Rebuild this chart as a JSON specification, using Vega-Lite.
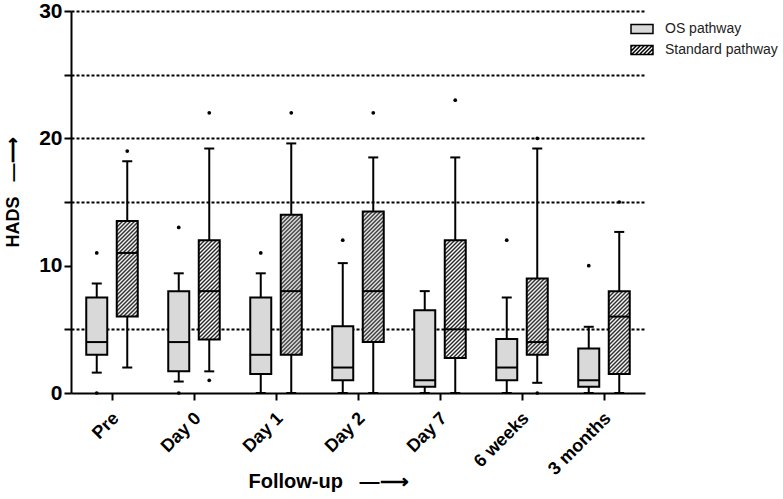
{
  "$schema": "https://vega.github.io/schema/vega-lite/v6.json",
  "width": 574,
  "height": 382,
  "autosize": {"type": "none"},
  "padding": {"left": 71, "top": 11, "right": 138, "bottom": 106},
  "background": "white",
  "config": {
    "view": {"stroke": null},
    "axis": {"labelColor": "black", "titleColor": "black", "domainColor": "black", "tickColor": "black", "labelFont": "Liberation Sans", "titleFont": "Liberation Sans"}
  },
  "datasets": {
    "stats": [
      {"time": "Pre", "group": "OS pathway", "low": 1.6, "q1": 3, "median": 4, "q3": 7.5, "high": 8.6},
      {"time": "Pre", "group": "Standard pathway", "low": 2, "q1": 6, "median": 11, "q3": 13.5, "high": 18.2},
      {"time": "Day 0", "group": "OS pathway", "low": 0.9, "q1": 1.7, "median": 4, "q3": 8, "high": 9.4},
      {"time": "Day 0", "group": "Standard pathway", "low": 1.7, "q1": 4.2, "median": 8, "q3": 12, "high": 19.2},
      {"time": "Day 1", "group": "OS pathway", "low": 0, "q1": 1.5, "median": 3, "q3": 7.5, "high": 9.4},
      {"time": "Day 1", "group": "Standard pathway", "low": 0, "q1": 3, "median": 8, "q3": 14, "high": 19.6},
      {"time": "Day 2", "group": "OS pathway", "low": 0, "q1": 1, "median": 2, "q3": 5.25, "high": 10.2},
      {"time": "Day 2", "group": "Standard pathway", "low": 0, "q1": 4, "median": 8, "q3": 14.25, "high": 18.5},
      {"time": "Day 7", "group": "OS pathway", "low": 0, "q1": 0.5, "median": 1, "q3": 6.5, "high": 8},
      {"time": "Day 7", "group": "Standard pathway", "low": 0, "q1": 2.75, "median": 5, "q3": 12, "high": 18.5},
      {"time": "6 weeks", "group": "OS pathway", "low": 0, "q1": 1, "median": 2, "q3": 4.25, "high": 7.5},
      {"time": "6 weeks", "group": "Standard pathway", "low": 0.8, "q1": 3, "median": 4, "q3": 9, "high": 19.2},
      {"time": "3 months", "group": "OS pathway", "low": 0, "q1": 0.5, "median": 1, "q3": 3.5, "high": 5.2},
      {"time": "3 months", "group": "Standard pathway", "low": 0, "q1": 1.5, "median": 6, "q3": 8, "high": 12.65}
    ],
    "outliers": [
      {"time": "Pre", "group": "OS pathway", "value": 11},
      {"time": "Pre", "group": "OS pathway", "value": 0},
      {"time": "Pre", "group": "Standard pathway", "value": 19},
      {"time": "Day 0", "group": "OS pathway", "value": 13},
      {"time": "Day 0", "group": "OS pathway", "value": 0},
      {"time": "Day 0", "group": "Standard pathway", "value": 22},
      {"time": "Day 0", "group": "Standard pathway", "value": 1},
      {"time": "Day 1", "group": "OS pathway", "value": 11},
      {"time": "Day 1", "group": "Standard pathway", "value": 22},
      {"time": "Day 2", "group": "OS pathway", "value": 12},
      {"time": "Day 2", "group": "Standard pathway", "value": 22},
      {"time": "Day 7", "group": "Standard pathway", "value": 23},
      {"time": "6 weeks", "group": "OS pathway", "value": 12},
      {"time": "6 weeks", "group": "Standard pathway", "value": 20},
      {"time": "6 weeks", "group": "Standard pathway", "value": 0},
      {"time": "3 months", "group": "OS pathway", "value": 10},
      {"time": "3 months", "group": "Standard pathway", "value": 15}
    ]
  },
  "encoding": {
    "x": {
      "field": "time", "type": "nominal",
      "sort": ["Pre", "Day 0", "Day 1", "Day 2", "Day 7", "6 weeks", "3 months"],
      "scale": {"paddingInner": 0, "paddingOuter": 0},
      "axis": {
        "title": "Follow-up\u00a0\u00a0\u00a0—⟶", "titleFontSize": 20, "titleFontWeight": "bold",
        "titleX": 257, "titleY": 94, "titleAlign": "center", "titleBaseline": "alphabetic", "titleAnchor": null,
        "labelAngle": -45, "labelFontSize": 18, "labelFontWeight": "bold", "labelPadding": 9, "labelOffset": -2,
        "tickSize": 7, "tickWidth": 2, "domainWidth": 2, "grid": false
      }
    },
    "xOffset": {
      "field": "group", "type": "nominal", "sort": ["OS pathway", "Standard pathway"],
      "scale": {"paddingInner": 0, "paddingOuter": 0.344}
    }
  },
  "layer": [
    {
      "data": {"name": "stats"},
      "mark": {"type": "rule", "stroke": "black", "strokeWidth": 2},
      "encoding": {
        "y": {
          "field": "low", "type": "quantitative",
          "scale": {"domain": [0, 30], "nice": false},
          "axis": {
            "title": "HADS\u00a0\u00a0\u00a0—⟶", "titleFontSize": 18, "titleFontWeight": "bold",
            "titleX": -53, "titleY": 181, "titleAngle": -90, "titleAlign": "center", "titleBaseline": "alphabetic",
            "values": [0, 5, 10, 15, 20, 25, 30],
            "labelExpr": "datum.value % 10 === 0 ? datum.label : ''",
            "labelFontSize": 21, "labelFontWeight": "bold", "labelPadding": 2,
            "tickSize": 7, "tickWidth": 2, "domainWidth": 2,
            "grid": true, "gridColor": "black", "gridWidth": 2, "gridDash": [3, 2],
            "gridOpacity": {"condition": {"test": "datum.value === 0 || datum.value === 10", "value": 0}, "value": 1}
          }
        },
        "y2": {"field": "high"}
      }
    },
    {
      "data": {"name": "stats"},
      "mark": {"type": "tick", "size": 10, "thickness": 2, "color": "black", "opacity": 1},
      "encoding": {"y": {"field": "low", "type": "quantitative"}}
    },
    {
      "data": {"name": "stats"},
      "mark": {"type": "tick", "size": 10, "thickness": 2, "color": "black", "opacity": 1},
      "encoding": {"y": {"field": "high", "type": "quantitative"}}
    },
    {
      "data": {"name": "stats"},
      "mark": {"type": "bar", "size": 21, "stroke": "black", "strokeWidth": 2},
      "encoding": {
        "y": {"field": "q1", "type": "quantitative"},
        "y2": {"field": "q3"},
        "fill": {
          "value": "#d9d9d9",
          "condition": [
            {"test": "datum.group === 'Standard pathway' && datum.time === 'Pre'", "value": {"gradient": "linear", "x1": 0, "y1": 0, "x2": 0.3514, "y2": 1.598, "stops": [{"offset":0,"color":"#fff"},{"offset":0.0125,"color":"#222"},{"offset":0.025,"color":"#fff"},{"offset":0.0375,"color":"#222"},{"offset":0.05,"color":"#fff"},{"offset":0.0625,"color":"#222"},{"offset":0.075,"color":"#fff"},{"offset":0.0875,"color":"#222"},{"offset":0.1,"color":"#fff"},{"offset":0.1125,"color":"#222"},{"offset":0.125,"color":"#fff"},{"offset":0.1375,"color":"#222"},{"offset":0.15,"color":"#fff"},{"offset":0.1625,"color":"#222"},{"offset":0.175,"color":"#fff"},{"offset":0.1875,"color":"#222"},{"offset":0.2,"color":"#fff"},{"offset":0.2125,"color":"#222"},{"offset":0.225,"color":"#fff"},{"offset":0.2375,"color":"#222"},{"offset":0.25,"color":"#fff"},{"offset":0.2625,"color":"#222"},{"offset":0.275,"color":"#fff"},{"offset":0.2875,"color":"#222"},{"offset":0.3,"color":"#fff"},{"offset":0.3125,"color":"#222"},{"offset":0.325,"color":"#fff"},{"offset":0.3375,"color":"#222"},{"offset":0.35,"color":"#fff"},{"offset":0.3625,"color":"#222"},{"offset":0.375,"color":"#fff"},{"offset":0.3875,"color":"#222"},{"offset":0.4,"color":"#fff"},{"offset":0.4125,"color":"#222"},{"offset":0.425,"color":"#fff"},{"offset":0.4375,"color":"#222"},{"offset":0.45,"color":"#fff"},{"offset":0.4625,"color":"#222"},{"offset":0.475,"color":"#fff"},{"offset":0.4875,"color":"#222"},{"offset":0.5,"color":"#fff"},{"offset":0.5125,"color":"#222"},{"offset":0.525,"color":"#fff"},{"offset":0.5375,"color":"#222"},{"offset":0.55,"color":"#fff"},{"offset":0.5625,"color":"#222"},{"offset":0.575,"color":"#fff"},{"offset":0.5875,"color":"#222"},{"offset":0.6,"color":"#fff"},{"offset":0.6125,"color":"#222"},{"offset":0.625,"color":"#fff"},{"offset":0.6375,"color":"#222"},{"offset":0.65,"color":"#fff"},{"offset":0.6625,"color":"#222"},{"offset":0.675,"color":"#fff"},{"offset":0.6875,"color":"#222"},{"offset":0.7,"color":"#fff"},{"offset":0.7125,"color":"#222"},{"offset":0.725,"color":"#fff"},{"offset":0.7375,"color":"#222"},{"offset":0.75,"color":"#fff"}]}},
            {"test": "datum.group === 'Standard pathway' && datum.time === 'Day 0'", "value": {"gradient": "linear", "x1": 0, "y1": 0, "x2": 0.326, "y2": 1.542, "stops": [{"offset":0,"color":"#fff"},{"offset":0.0125,"color":"#222"},{"offset":0.025,"color":"#fff"},{"offset":0.0375,"color":"#222"},{"offset":0.05,"color":"#fff"},{"offset":0.0625,"color":"#222"},{"offset":0.075,"color":"#fff"},{"offset":0.0875,"color":"#222"},{"offset":0.1,"color":"#fff"},{"offset":0.1125,"color":"#222"},{"offset":0.125,"color":"#fff"},{"offset":0.1375,"color":"#222"},{"offset":0.15,"color":"#fff"},{"offset":0.1625,"color":"#222"},{"offset":0.175,"color":"#fff"},{"offset":0.1875,"color":"#222"},{"offset":0.2,"color":"#fff"},{"offset":0.2125,"color":"#222"},{"offset":0.225,"color":"#fff"},{"offset":0.2375,"color":"#222"},{"offset":0.25,"color":"#fff"},{"offset":0.2625,"color":"#222"},{"offset":0.275,"color":"#fff"},{"offset":0.2875,"color":"#222"},{"offset":0.3,"color":"#fff"},{"offset":0.3125,"color":"#222"},{"offset":0.325,"color":"#fff"},{"offset":0.3375,"color":"#222"},{"offset":0.35,"color":"#fff"},{"offset":0.3625,"color":"#222"},{"offset":0.375,"color":"#fff"},{"offset":0.3875,"color":"#222"},{"offset":0.4,"color":"#fff"},{"offset":0.4125,"color":"#222"},{"offset":0.425,"color":"#fff"},{"offset":0.4375,"color":"#222"},{"offset":0.45,"color":"#fff"},{"offset":0.4625,"color":"#222"},{"offset":0.475,"color":"#fff"},{"offset":0.4875,"color":"#222"},{"offset":0.5,"color":"#fff"},{"offset":0.5125,"color":"#222"},{"offset":0.525,"color":"#fff"},{"offset":0.5375,"color":"#222"},{"offset":0.55,"color":"#fff"},{"offset":0.5625,"color":"#222"},{"offset":0.575,"color":"#fff"},{"offset":0.5875,"color":"#222"},{"offset":0.6,"color":"#fff"},{"offset":0.6125,"color":"#222"},{"offset":0.625,"color":"#fff"},{"offset":0.6375,"color":"#222"},{"offset":0.65,"color":"#fff"},{"offset":0.6625,"color":"#222"},{"offset":0.675,"color":"#fff"},{"offset":0.6875,"color":"#222"},{"offset":0.7,"color":"#fff"},{"offset":0.7125,"color":"#222"},{"offset":0.725,"color":"#fff"},{"offset":0.7375,"color":"#222"},{"offset":0.75,"color":"#fff"},{"offset":0.7625,"color":"#222"},{"offset":0.775,"color":"#fff"}]}},
            {"test": "datum.group === 'Standard pathway' && datum.time === 'Day 1'", "value": {"gradient": "linear", "x1": 0, "y1": 0, "x2": 0.1675, "y2": 1.1172, "stops": [{"offset":0,"color":"#fff"},{"offset":0.0125,"color":"#222"},{"offset":0.025,"color":"#fff"},{"offset":0.0375,"color":"#222"},{"offset":0.05,"color":"#fff"},{"offset":0.0625,"color":"#222"},{"offset":0.075,"color":"#fff"},{"offset":0.0875,"color":"#222"},{"offset":0.1,"color":"#fff"},{"offset":0.1125,"color":"#222"},{"offset":0.125,"color":"#fff"},{"offset":0.1375,"color":"#222"},{"offset":0.15,"color":"#fff"},{"offset":0.1625,"color":"#222"},{"offset":0.175,"color":"#fff"},{"offset":0.1875,"color":"#222"},{"offset":0.2,"color":"#fff"},{"offset":0.2125,"color":"#222"},{"offset":0.225,"color":"#fff"},{"offset":0.2375,"color":"#222"},{"offset":0.25,"color":"#fff"},{"offset":0.2625,"color":"#222"},{"offset":0.275,"color":"#fff"},{"offset":0.2875,"color":"#222"},{"offset":0.3,"color":"#fff"},{"offset":0.3125,"color":"#222"},{"offset":0.325,"color":"#fff"},{"offset":0.3375,"color":"#222"},{"offset":0.35,"color":"#fff"},{"offset":0.3625,"color":"#222"},{"offset":0.375,"color":"#fff"},{"offset":0.3875,"color":"#222"},{"offset":0.4,"color":"#fff"},{"offset":0.4125,"color":"#222"},{"offset":0.425,"color":"#fff"},{"offset":0.4375,"color":"#222"},{"offset":0.45,"color":"#fff"},{"offset":0.4625,"color":"#222"},{"offset":0.475,"color":"#fff"},{"offset":0.4875,"color":"#222"},{"offset":0.5,"color":"#fff"},{"offset":0.5125,"color":"#222"},{"offset":0.525,"color":"#fff"},{"offset":0.5375,"color":"#222"},{"offset":0.55,"color":"#fff"},{"offset":0.5625,"color":"#222"},{"offset":0.575,"color":"#fff"},{"offset":0.5875,"color":"#222"},{"offset":0.6,"color":"#fff"},{"offset":0.6125,"color":"#222"},{"offset":0.625,"color":"#fff"},{"offset":0.6375,"color":"#222"},{"offset":0.65,"color":"#fff"},{"offset":0.6625,"color":"#222"},{"offset":0.675,"color":"#fff"},{"offset":0.6875,"color":"#222"},{"offset":0.7,"color":"#fff"},{"offset":0.7125,"color":"#222"},{"offset":0.725,"color":"#fff"},{"offset":0.7375,"color":"#222"},{"offset":0.75,"color":"#fff"},{"offset":0.7625,"color":"#222"},{"offset":0.775,"color":"#fff"},{"offset":0.7875,"color":"#222"},{"offset":0.8,"color":"#fff"},{"offset":0.8125,"color":"#222"},{"offset":0.825,"color":"#fff"},{"offset":0.8375,"color":"#222"},{"offset":0.85,"color":"#fff"},{"offset":0.8625,"color":"#222"},{"offset":0.875,"color":"#fff"},{"offset":0.8875,"color":"#222"},{"offset":0.9,"color":"#fff"},{"offset":0.9125,"color":"#222"},{"offset":0.925,"color":"#fff"},{"offset":0.9375,"color":"#222"},{"offset":0.95,"color":"#fff"},{"offset":0.9625,"color":"#222"},{"offset":0.975,"color":"#fff"},{"offset":0.9875,"color":"#222"},{"offset":1,"color":"#fff"}]}},
            {"test": "datum.group === 'Standard pathway' && datum.time === 'Day 2'", "value": {"gradient": "linear", "x1": 0, "y1": 0, "x2": 0.1923, "y2": 1.195, "stops": [{"offset":0,"color":"#fff"},{"offset":0.0125,"color":"#222"},{"offset":0.025,"color":"#fff"},{"offset":0.0375,"color":"#222"},{"offset":0.05,"color":"#fff"},{"offset":0.0625,"color":"#222"},{"offset":0.075,"color":"#fff"},{"offset":0.0875,"color":"#222"},{"offset":0.1,"color":"#fff"},{"offset":0.1125,"color":"#222"},{"offset":0.125,"color":"#fff"},{"offset":0.1375,"color":"#222"},{"offset":0.15,"color":"#fff"},{"offset":0.1625,"color":"#222"},{"offset":0.175,"color":"#fff"},{"offset":0.1875,"color":"#222"},{"offset":0.2,"color":"#fff"},{"offset":0.2125,"color":"#222"},{"offset":0.225,"color":"#fff"},{"offset":0.2375,"color":"#222"},{"offset":0.25,"color":"#fff"},{"offset":0.2625,"color":"#222"},{"offset":0.275,"color":"#fff"},{"offset":0.2875,"color":"#222"},{"offset":0.3,"color":"#fff"},{"offset":0.3125,"color":"#222"},{"offset":0.325,"color":"#fff"},{"offset":0.3375,"color":"#222"},{"offset":0.35,"color":"#fff"},{"offset":0.3625,"color":"#222"},{"offset":0.375,"color":"#fff"},{"offset":0.3875,"color":"#222"},{"offset":0.4,"color":"#fff"},{"offset":0.4125,"color":"#222"},{"offset":0.425,"color":"#fff"},{"offset":0.4375,"color":"#222"},{"offset":0.45,"color":"#fff"},{"offset":0.4625,"color":"#222"},{"offset":0.475,"color":"#fff"},{"offset":0.4875,"color":"#222"},{"offset":0.5,"color":"#fff"},{"offset":0.5125,"color":"#222"},{"offset":0.525,"color":"#fff"},{"offset":0.5375,"color":"#222"},{"offset":0.55,"color":"#fff"},{"offset":0.5625,"color":"#222"},{"offset":0.575,"color":"#fff"},{"offset":0.5875,"color":"#222"},{"offset":0.6,"color":"#fff"},{"offset":0.6125,"color":"#222"},{"offset":0.625,"color":"#fff"},{"offset":0.6375,"color":"#222"},{"offset":0.65,"color":"#fff"},{"offset":0.6625,"color":"#222"},{"offset":0.675,"color":"#fff"},{"offset":0.6875,"color":"#222"},{"offset":0.7,"color":"#fff"},{"offset":0.7125,"color":"#222"},{"offset":0.725,"color":"#fff"},{"offset":0.7375,"color":"#222"},{"offset":0.75,"color":"#fff"},{"offset":0.7625,"color":"#222"},{"offset":0.775,"color":"#fff"},{"offset":0.7875,"color":"#222"},{"offset":0.8,"color":"#fff"},{"offset":0.8125,"color":"#222"},{"offset":0.825,"color":"#fff"},{"offset":0.8375,"color":"#222"},{"offset":0.85,"color":"#fff"},{"offset":0.8625,"color":"#222"},{"offset":0.875,"color":"#fff"},{"offset":0.8875,"color":"#222"},{"offset":0.9,"color":"#fff"},{"offset":0.9125,"color":"#222"},{"offset":0.925,"color":"#fff"},{"offset":0.9375,"color":"#222"},{"offset":0.95,"color":"#fff"},{"offset":0.9625,"color":"#222"},{"offset":0.975,"color":"#fff"}]}},
            {"test": "datum.group === 'Standard pathway' && datum.time === 'Day 7'", "value": {"gradient": "linear", "x1": 0, "y1": 0, "x2": 0.2348, "y2": 1.3167, "stops": [{"offset":0,"color":"#fff"},{"offset":0.0125,"color":"#222"},{"offset":0.025,"color":"#fff"},{"offset":0.0375,"color":"#222"},{"offset":0.05,"color":"#fff"},{"offset":0.0625,"color":"#222"},{"offset":0.075,"color":"#fff"},{"offset":0.0875,"color":"#222"},{"offset":0.1,"color":"#fff"},{"offset":0.1125,"color":"#222"},{"offset":0.125,"color":"#fff"},{"offset":0.1375,"color":"#222"},{"offset":0.15,"color":"#fff"},{"offset":0.1625,"color":"#222"},{"offset":0.175,"color":"#fff"},{"offset":0.1875,"color":"#222"},{"offset":0.2,"color":"#fff"},{"offset":0.2125,"color":"#222"},{"offset":0.225,"color":"#fff"},{"offset":0.2375,"color":"#222"},{"offset":0.25,"color":"#fff"},{"offset":0.2625,"color":"#222"},{"offset":0.275,"color":"#fff"},{"offset":0.2875,"color":"#222"},{"offset":0.3,"color":"#fff"},{"offset":0.3125,"color":"#222"},{"offset":0.325,"color":"#fff"},{"offset":0.3375,"color":"#222"},{"offset":0.35,"color":"#fff"},{"offset":0.3625,"color":"#222"},{"offset":0.375,"color":"#fff"},{"offset":0.3875,"color":"#222"},{"offset":0.4,"color":"#fff"},{"offset":0.4125,"color":"#222"},{"offset":0.425,"color":"#fff"},{"offset":0.4375,"color":"#222"},{"offset":0.45,"color":"#fff"},{"offset":0.4625,"color":"#222"},{"offset":0.475,"color":"#fff"},{"offset":0.4875,"color":"#222"},{"offset":0.5,"color":"#fff"},{"offset":0.5125,"color":"#222"},{"offset":0.525,"color":"#fff"},{"offset":0.5375,"color":"#222"},{"offset":0.55,"color":"#fff"},{"offset":0.5625,"color":"#222"},{"offset":0.575,"color":"#fff"},{"offset":0.5875,"color":"#222"},{"offset":0.6,"color":"#fff"},{"offset":0.6125,"color":"#222"},{"offset":0.625,"color":"#fff"},{"offset":0.6375,"color":"#222"},{"offset":0.65,"color":"#fff"},{"offset":0.6625,"color":"#222"},{"offset":0.675,"color":"#fff"},{"offset":0.6875,"color":"#222"},{"offset":0.7,"color":"#fff"},{"offset":0.7125,"color":"#222"},{"offset":0.725,"color":"#fff"},{"offset":0.7375,"color":"#222"},{"offset":0.75,"color":"#fff"},{"offset":0.7625,"color":"#222"},{"offset":0.775,"color":"#fff"},{"offset":0.7875,"color":"#222"},{"offset":0.8,"color":"#fff"},{"offset":0.8125,"color":"#222"},{"offset":0.825,"color":"#fff"},{"offset":0.8375,"color":"#222"},{"offset":0.85,"color":"#fff"},{"offset":0.8625,"color":"#222"},{"offset":0.875,"color":"#fff"},{"offset":0.8875,"color":"#222"},{"offset":0.9,"color":"#fff"}]}},
            {"test": "datum.group === 'Standard pathway' && datum.time === '6 weeks'", "value": {"gradient": "linear", "x1": 0, "y1": 0, "x2": 0.5352, "y2": 1.9471, "stops": [{"offset":0,"color":"#fff"},{"offset":0.0125,"color":"#222"},{"offset":0.025,"color":"#fff"},{"offset":0.0375,"color":"#222"},{"offset":0.05,"color":"#fff"},{"offset":0.0625,"color":"#222"},{"offset":0.075,"color":"#fff"},{"offset":0.0875,"color":"#222"},{"offset":0.1,"color":"#fff"},{"offset":0.1125,"color":"#222"},{"offset":0.125,"color":"#fff"},{"offset":0.1375,"color":"#222"},{"offset":0.15,"color":"#fff"},{"offset":0.1625,"color":"#222"},{"offset":0.175,"color":"#fff"},{"offset":0.1875,"color":"#222"},{"offset":0.2,"color":"#fff"},{"offset":0.2125,"color":"#222"},{"offset":0.225,"color":"#fff"},{"offset":0.2375,"color":"#222"},{"offset":0.25,"color":"#fff"},{"offset":0.2625,"color":"#222"},{"offset":0.275,"color":"#fff"},{"offset":0.2875,"color":"#222"},{"offset":0.3,"color":"#fff"},{"offset":0.3125,"color":"#222"},{"offset":0.325,"color":"#fff"},{"offset":0.3375,"color":"#222"},{"offset":0.35,"color":"#fff"},{"offset":0.3625,"color":"#222"},{"offset":0.375,"color":"#fff"},{"offset":0.3875,"color":"#222"},{"offset":0.4,"color":"#fff"},{"offset":0.4125,"color":"#222"},{"offset":0.425,"color":"#fff"},{"offset":0.4375,"color":"#222"},{"offset":0.45,"color":"#fff"},{"offset":0.4625,"color":"#222"},{"offset":0.475,"color":"#fff"},{"offset":0.4875,"color":"#222"},{"offset":0.5,"color":"#fff"},{"offset":0.5125,"color":"#222"},{"offset":0.525,"color":"#fff"},{"offset":0.5375,"color":"#222"},{"offset":0.55,"color":"#fff"},{"offset":0.5625,"color":"#222"},{"offset":0.575,"color":"#fff"},{"offset":0.5875,"color":"#222"},{"offset":0.6,"color":"#fff"},{"offset":0.6125,"color":"#222"},{"offset":0.625,"color":"#fff"}]}},
            {"test": "datum.group === 'Standard pathway' && datum.time === '3 months'", "value": {"gradient": "linear", "x1": 0, "y1": 0, "x2": 0.4608, "y2": 1.8163, "stops": [{"offset":0,"color":"#fff"},{"offset":0.0125,"color":"#222"},{"offset":0.025,"color":"#fff"},{"offset":0.0375,"color":"#222"},{"offset":0.05,"color":"#fff"},{"offset":0.0625,"color":"#222"},{"offset":0.075,"color":"#fff"},{"offset":0.0875,"color":"#222"},{"offset":0.1,"color":"#fff"},{"offset":0.1125,"color":"#222"},{"offset":0.125,"color":"#fff"},{"offset":0.1375,"color":"#222"},{"offset":0.15,"color":"#fff"},{"offset":0.1625,"color":"#222"},{"offset":0.175,"color":"#fff"},{"offset":0.1875,"color":"#222"},{"offset":0.2,"color":"#fff"},{"offset":0.2125,"color":"#222"},{"offset":0.225,"color":"#fff"},{"offset":0.2375,"color":"#222"},{"offset":0.25,"color":"#fff"},{"offset":0.2625,"color":"#222"},{"offset":0.275,"color":"#fff"},{"offset":0.2875,"color":"#222"},{"offset":0.3,"color":"#fff"},{"offset":0.3125,"color":"#222"},{"offset":0.325,"color":"#fff"},{"offset":0.3375,"color":"#222"},{"offset":0.35,"color":"#fff"},{"offset":0.3625,"color":"#222"},{"offset":0.375,"color":"#fff"},{"offset":0.3875,"color":"#222"},{"offset":0.4,"color":"#fff"},{"offset":0.4125,"color":"#222"},{"offset":0.425,"color":"#fff"},{"offset":0.4375,"color":"#222"},{"offset":0.45,"color":"#fff"},{"offset":0.4625,"color":"#222"},{"offset":0.475,"color":"#fff"},{"offset":0.4875,"color":"#222"},{"offset":0.5,"color":"#fff"},{"offset":0.5125,"color":"#222"},{"offset":0.525,"color":"#fff"},{"offset":0.5375,"color":"#222"},{"offset":0.55,"color":"#fff"},{"offset":0.5625,"color":"#222"},{"offset":0.575,"color":"#fff"},{"offset":0.5875,"color":"#222"},{"offset":0.6,"color":"#fff"},{"offset":0.6125,"color":"#222"},{"offset":0.625,"color":"#fff"},{"offset":0.6375,"color":"#222"},{"offset":0.65,"color":"#fff"},{"offset":0.6625,"color":"#222"}]}}
          ]
        }
      }
    },
    {
      "data": {"name": "stats"},
      "mark": {"type": "tick", "size": 21, "thickness": 2, "color": "black", "opacity": 1},
      "encoding": {"y": {"field": "median", "type": "quantitative"}}
    },
    {
      "data": {"name": "outliers"},
      "mark": {"type": "point", "filled": true, "size": 14, "color": "black", "opacity": 1},
      "encoding": {"y": {"field": "value", "type": "quantitative"}}
    },
    {
      "data": {"name": "stats"},
      "mark": {"type": "point", "filled": true, "opacity": 0, "strokeWidth": 1.5},
      "encoding": {
        "y": {"field": "median", "type": "quantitative"},
        "fill": {
          "field": "group", "type": "nominal",
          "scale": {"domain": ["OS pathway", "Standard pathway"], "range": ["#d9d9d9", "#ffffff"]},
          "legend": {"title": null, "orient": "none", "legendX": 559, "legendY": 6, "symbolSize": 484, "symbolStrokeWidth": 1.5, "symbolOpacity": 1, "labelFont": "Liberation Sans", "labelFontSize": 14, "labelColor": "#222", "labelOffset": 11, "rowPadding": 1}
        },
        "stroke": {
          "field": "group", "type": "nominal",
          "scale": {"domain": ["OS pathway", "Standard pathway"], "range": ["#000000", "#000001"]},
          "legend": {"title": null, "orient": "none", "legendX": 559, "legendY": 6, "symbolSize": 484, "symbolStrokeWidth": 1.5, "symbolOpacity": 1, "labelFont": "Liberation Sans", "labelFontSize": 14, "labelColor": "#222", "labelOffset": 11, "rowPadding": 1}
        },
        "shape": {
          "field": "group", "type": "nominal",
          "scale": {"domain": ["OS pathway", "Standard pathway"], "range": ["M-1,-0.41H1V0.41H-1Z", "M-1,-0.41H1V0.41H-1Z M-1,-0.26L-0.85,-0.41 M-1,0.1L-0.49,-0.41 M-0.95,0.41L-0.13,-0.41 M-0.59,0.41L0.23,-0.41 M-0.23,0.41L0.59,-0.41 M0.13,0.41L0.95,-0.41 M0.49,0.41L1,-0.1 M0.85,0.41L1,0.26"]},
          "legend": {"title": null, "orient": "none", "legendX": 559, "legendY": 6, "symbolSize": 484, "symbolStrokeWidth": 1.5, "symbolOpacity": 1, "labelFont": "Liberation Sans", "labelFontSize": 14, "labelColor": "#222", "labelOffset": 11, "rowPadding": 1}
        }
      }
    }
  ]
}
